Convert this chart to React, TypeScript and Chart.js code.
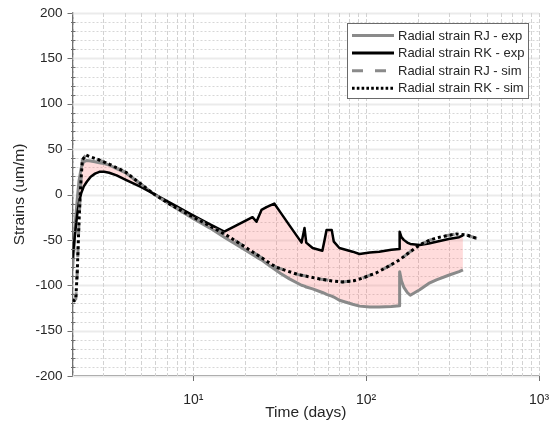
import React, { useEffect, useRef } from 'react';
import { Chart, registerables } from 'chart.js';

Chart.register(...registerables);

const FONT = "'Liberation Sans', Arial, Helvetica, sans-serif";
const TEXT = '#262626';

const seriesNames = [
  'Radial strain RJ - exp',
  'Radial strain RK - exp',
  'Radial strain RJ - sim',
  'Radial strain RK - sim',
];

const xTickValues = [10, 100, 1000];
const xTickLabels = ['10¹', '10²', '10³'];

// experimental time base (days)
const expDays = [2.0, 2.04, 2.08, 2.13, 2.18, 2.25, 2.32, 2.42, 2.55, 2.7, 2.86, 3.05, 3.26, 3.6, 4.07, 5.0, 5.8, 7.5, 9.9, 12.5, 15.1, 18, 22, 23.2, 24.8, 26.5, 29.4, 32, 36, 42.3, 44, 45, 49, 55.8, 57.5, 59, 63.2, 65, 70, 83.5, 91.5, 105, 119, 140, 156, 156.2, 160, 165, 173, 180, 204, 230, 255, 300, 345, 363];

const rjExp = [-82, -60, -30, -5, 15, 30, 36, 37.5, 37, 36, 35, 34, 32.5, 28.5, 23.7, 11, 1.6, -12, -26, -37, -47, -56, -66, -69, -72, -76, -82, -87, -93, -100, -101, -102, -104, -108, -109, -110, -112, -113, -116.5, -121, -123, -124, -124, -123.5, -122.5, -85, -95, -102, -108, -111, -105, -98, -94, -89, -85, -83];

const rkExp = [-70, -55, -39, -22, -9, 2, 8.6, 14, 19.6, 23, 25, 25, 24, 21, 16, 8, 1.6, -10, -22.6, -33, -41, -33.5, -25, -30, -17, -14, -10, -20, -34, -53, -37, -53, -59, -62, -50, -39, -39, -52, -59, -63, -65.5, -64, -63, -61, -60, -41, -47, -50, -53, -54.5, -55.6, -54, -52, -49, -47, -45];

// simulation time base (days)
const simDays = [2.0, 2.05, 2.09, 2.13, 2.18, 2.23, 2.28, 2.39, 2.5, 2.86, 3.3, 4.07, 5.8, 7.5, 9.9, 12, 15.5, 20, 25, 30, 40, 53.6, 65, 73, 85, 95.5, 114, 135, 156, 180, 204, 235, 267, 300, 333, 380, 445];

const rjSim = [-116, -117, -115, -86, -31, 10, 38, 43.5, 42, 38, 33, 24.5, 1.6, -12, -24.5, -33, -44.6, -58, -70, -80, -88, -93, -95.5, -96.4, -95, -92, -86.5, -79, -72, -63, -55.6, -50, -47, -45, -43.5, -44.5, -49];

const rkSim = [-116, -117, -115, -86, -31, 10, 38, 43.5, 42, 38, 33, 24.5, 1.6, -12, -24.5, -33, -44.6, -58, -70, -80, -88, -93, -95.5, -96.4, -95, -92, -86.5, -79, -72, -63, -55.6, -50, -47, -45, -43.5, -44.5, -49];

const Y_MIN = -200;
const Y_MAX = 200;
const Y_MINOR_STEP = 10;
const Y_MAJOR_STEP = 50;

const legendStyles = [
  { color: '#8a8a8a', width: 3, dash: [] as number[] },
  { color: '#000000', width: 3, dash: [] as number[] },
  { color: '#8a8a8a', width: 3, dash: [11, 12] },
  { color: '#000000', width: 3, dash: [2.6, 2.2] },
];

export default function App() {
  const ref = useRef<HTMLCanvasElement>(null);

  useEffect(() => {
    if (!ref.current) return;
    const toPts = (xs: number[], ys: number[]) => xs.map((x, i) => ({ x, y: ys[i] }));

    const gridPlugin = {
      id: 'customGrid',
      beforeDatasetsDraw(chart: any) {
        const { ctx, chartArea, scales } = chart;
        const { left, right, top, bottom } = chartArea;
        const x = scales.x;
        const y = scales.y;
        ctx.save();
        for (let v = Y_MIN; v <= Y_MAX; v += Y_MINOR_STEP) {
          const py = Math.round(y.getPixelForValue(v)) + 0.5;
          ctx.beginPath();
          if (v % Y_MAJOR_STEP === 0) {
            ctx.strokeStyle = '#ebebeb';
            ctx.lineWidth = 2;
            ctx.setLineDash([]);
          } else {
            ctx.strokeStyle = '#d7d7d7';
            ctx.lineWidth = 1;
            ctx.setLineDash([2, 2]);
          }
          ctx.moveTo(left, py);
          ctx.lineTo(right, py);
          ctx.stroke();
        }
        ctx.strokeStyle = '#d2d2d2';
        ctx.lineWidth = 1;
        ctx.setLineDash([4, 2]);
        for (const d of [1, 10, 100, 1000]) {
          for (let k = 1; k <= 9; k++) {
            const v = d * k;
            if (v < x.min || v > x.max) continue;
            const px = Math.round(x.getPixelForValue(v)) + 0.5;
            ctx.beginPath();
            ctx.moveTo(px, top);
            ctx.lineTo(px, bottom);
            ctx.stroke();
          }
        }
        ctx.restore();
      },
    };

    const overlayPlugin = {
      id: 'ticksAndLegend',
      afterDraw(chart: any) {
        const { ctx, chartArea, scales } = chart;
        const { left, right, top, bottom } = chartArea;
        const x = scales.x;
        const y = scales.y;
        ctx.save();
        ctx.strokeStyle = '#707070';
        ctx.lineWidth = 1;
        ctx.setLineDash([]);
        for (let v = Y_MIN; v <= Y_MAX; v += Y_MINOR_STEP) {
          const py = Math.round(y.getPixelForValue(v)) + 0.5;
          ctx.beginPath();
          if (v % Y_MAJOR_STEP === 0) {
            ctx.moveTo(left - 5, py);
            ctx.lineTo(left, py);
          } else {
            ctx.moveTo(left - 1.5, py);
            ctx.lineTo(left + 3, py);
          }
          ctx.stroke();
        }
        for (const v of xTickValues) {
          const px = Math.round(x.getPixelForValue(v)) + 0.5;
          ctx.beginPath();
          ctx.moveTo(px, bottom);
          ctx.lineTo(px, bottom + 5);
          ctx.stroke();
        }
        // legend
        const w = 181;
        const h = 75;
        const lx = Math.round(right - 11.5 - w);
        const ly = Math.round(top + 10);
        ctx.fillStyle = '#ffffff';
        ctx.fillRect(lx, ly, w, h);
        ctx.strokeStyle = '#6a6a6a';
        ctx.lineWidth = 1;
        ctx.strokeRect(lx + 0.5, ly + 0.5, w, h);
        ctx.font = `13px ${FONT}`;
        ctx.textBaseline = 'middle';
        ctx.textAlign = 'left';
        seriesNames.forEach((name, i) => {
          const ry = ly + 12.5 + i * 17.6;
          const st = legendStyles[i];
          ctx.beginPath();
          ctx.strokeStyle = st.color;
          ctx.lineWidth = st.width;
          ctx.setLineDash(st.dash);
          ctx.moveTo(lx + 5, ry);
          ctx.lineTo(lx + 47, ry);
          ctx.stroke();
          ctx.setLineDash([]);
          ctx.fillStyle = TEXT;
          ctx.fillText(name, lx + 51, ry + 0.5);
        });
        ctx.restore();
      },
    };

    const chart = new Chart(ref.current, {
      type: 'line',
      data: {
        datasets: [
          {
            label: seriesNames[0],
            data: toPts(expDays, rjExp),
            borderColor: '#8a8a8a',
            borderWidth: 3,
            backgroundColor: 'rgba(255, 110, 110, 0.24)',
            fill: { target: 1 },
            order: 4,
          },
          {
            label: seriesNames[1],
            data: toPts(expDays, rkExp),
            borderColor: '#000000',
            borderWidth: 2.5,
            fill: false,
            order: 3,
          },
          {
            label: seriesNames[2],
            data: toPts(simDays, rjSim),
            borderColor: '#8a8a8a',
            borderWidth: 3,
            borderDash: [11, 12],
            fill: false,
            order: 2,
          },
          {
            label: seriesNames[3],
            data: toPts(simDays, rkSim),
            borderColor: '#000000',
            borderWidth: 3,
            borderDash: [3, 3],
            fill: false,
            order: 1,
          },
        ],
      } as any,
      options: {
        animation: false,
        responsive: false,
        elements: {
          point: { radius: 0, hoverRadius: 0 },
          line: { tension: 0, borderJoinStyle: 'round' as const },
        },
        layout: { padding: { top: 13, right: 14, left: 0, bottom: 0 } },
        plugins: {
          legend: { display: false },
          tooltip: { enabled: false },
        },
        scales: {
          x: {
            type: 'logarithmic',
            min: 2,
            max: 1000,
            grid: { display: false, drawTicks: false },
            border: { display: true, color: '#707070', width: 1.5 },
            afterBuildTicks: (s: any) => {
              s.ticks = xTickValues.map((v) => ({ value: v }));
            },
            afterFit: (s: any) => {
              s.height = 58;
              s.paddingLeft = 0;
              s.paddingRight = 0;
              s.paddingTop = 0;
              s.paddingBottom = 0;
            },
            ticks: {
              autoSkip: false,
              maxRotation: 0,
              padding: 16,
              color: TEXT,
              font: { size: 14, family: FONT },
              callback: (value: any) => {
                const i = xTickValues.indexOf(Number(value));
                return i >= 0 ? xTickLabels[i] : '';
              },
            },
            title: {
              display: true,
              text: 'Time (days)',
              color: TEXT,
              font: { size: 15.5, family: FONT },
              padding: { top: 0, bottom: 12 },
            },
          },
          y: {
            min: Y_MIN,
            max: Y_MAX,
            grid: { display: false, drawTicks: false },
            border: { display: true, color: '#707070', width: 1.5 },
            afterFit: (s: any) => {
              s.width = 72.5;
              s.paddingLeft = 0;
              s.paddingRight = 0;
              s.paddingTop = 0;
              s.paddingBottom = 0;
            },
            ticks: {
              stepSize: Y_MAJOR_STEP,
              padding: 10,
              color: TEXT,
              font: { size: 13.5, family: FONT },
            },
            title: {
              display: true,
              text: 'Strains (um/m)',
              color: TEXT,
              font: { size: 15.5, family: FONT },
              padding: { top: 10, bottom: 0 },
            },
          },
        },
      } as any,
      plugins: [gridPlugin, overlayPlugin],
    });

    return () => chart.destroy();
  }, []);

  return (
    <div style={{ position: 'fixed', left: 0, top: 0, width: 553, height: 434, background: '#ffffff' }}>
      <canvas ref={ref} width={553} height={434} style={{ display: 'block', width: 553, height: 434 }} />
    </div>
  );
}
